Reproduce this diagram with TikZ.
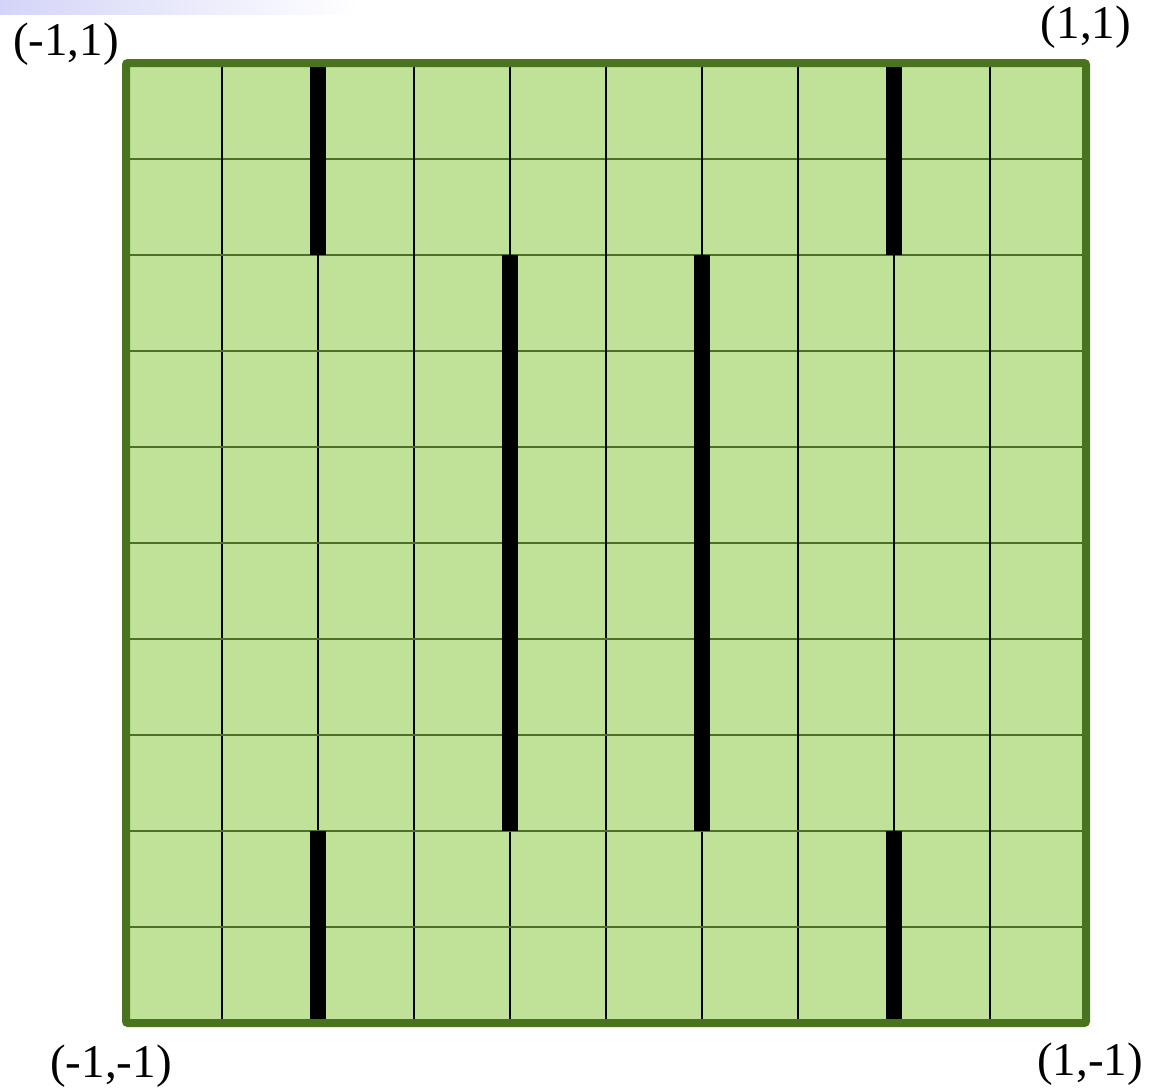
\documentclass[tikz,border=0pt]{standalone}
\usepackage{fontspec}
\setmainfont{Liberation Serif}
\definecolor{cellfill}{HTML}{C0E298}
\definecolor{frame}{HTML}{4A7320}
\definecolor{hline}{HTML}{4E6E2A}
\definecolor{barlav}{HTML}{D4D4F8}
\begin{document}
\begin{tikzpicture}[x=1pt,y=-1pt,
  corner/.style={font=\fontsize{47}{56}\selectfont, inner sep=0pt},
  gridh/.style={draw=hline, line width=1.8pt},
  gridv/.style={draw=black, line width=1.8pt},
  wall/.style={draw=black, line width=16pt, line cap=butt},
  board/.style={draw=frame, line width=8pt, rounded corners=2pt}]
\useasboundingbox (0,0) rectangle (1157,1088);
\fill[white] (0,0) rectangle (1157,1088);
\shade[left color=barlav, right color=white] (0,0) rectangle (360,14);
% board
\fill[cellfill] (126,63) rectangle (1086,1023);
\foreach \i in {1,...,9} {
  \draw[gridh] (126,{63+96*\i}) -- (1086,{63+96*\i});
  \draw[gridv] ({126+96*\i},63) -- ({126+96*\i},1023);
}
% walls
\draw[wall] (318,63) -- (318,255);
\draw[wall] (894,63) -- (894,255);
\draw[wall] (510,255) -- (510,831);
\draw[wall] (702,255) -- (702,831);
\draw[wall] (318,831) -- (318,1023);
\draw[wall] (894,831) -- (894,1023);
\draw[board] (126,63) rectangle (1086,1023);
% labels
\node[corner] (tl) at (66,44) {(-1,1)};
\node[corner] (tr) at (1086,27) {(1,1)};
\node[corner] (bl) at (111,1066) {(-1,-1)};
\node[corner] (br) at (1090,1064) {(1,-1)};
\end{tikzpicture}
\end{document}
